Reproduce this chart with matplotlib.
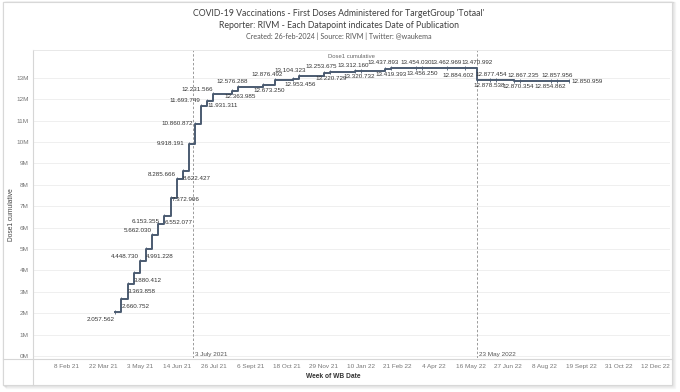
import matplotlib
matplotlib.use('Agg')
import matplotlib.pyplot as plt
import pandas as pd
from matplotlib.patches import Rectangle
from matplotlib.lines import Line2D

plt.rcParams['font.family'] = ['Lato', 'DejaVu Sans']

# data (publication week, cumulative first doses)
pub_dates = ['2021-04-05', '2021-04-12', '2021-04-19', '2021-04-26', '2021-05-03', '2021-05-10',
             '2021-05-17', '2021-05-24', '2021-05-31', '2021-06-07', '2021-06-14', '2021-06-21',
             '2021-06-28', '2021-07-05', '2021-07-12', '2021-07-19', '2021-07-26', '2021-08-16',
             '2021-08-23', '2021-09-20', '2021-10-04', '2021-10-25', '2021-11-01', '2021-11-29',
             '2021-12-06', '2022-01-03', '2022-01-10', '2022-02-07', '2022-02-14', '2022-03-14',
             '2022-03-21', '2022-04-18', '2022-05-09', '2022-05-23', '2022-06-06', '2022-06-13',
             '2022-07-04', '2022-07-11', '2022-08-15', '2022-08-22', '2022-09-05']
dose1 = [2057562, 2660752, 3363858, 3880412, 4448730, 4991228,
         5662030, 6153355, 6552077, 7372906, 8285666, 8622427,
         9918191, 10860872, 11693749, 11931311, 12231566, 12363985,
         12576288, 12673250, 12876492, 12953456, 13104323, 13220729,
         13253675, 13312160, 13320732, 13419393, 13437893, 13454030,
         13456250, 13462969, 13470992, 12884602, 12878538, 12877454,
         12870354, 12867235, 12857956, 12854862, 12850959]

tick_dates = ['2021-02-08', '2021-03-22', '2021-05-03', '2021-06-14', '2021-07-26', '2021-09-06',
              '2021-10-18', '2021-11-29', '2022-01-10', '2022-02-21', '2022-04-04', '2022-05-16',
              '2022-06-27', '2022-08-08', '2022-09-19', '2022-10-31', '2022-12-12']
tick_labels = ['8 Feb 21', '22 Mar 21', '3 May 21', '14 Jun 21', '26 Jul 21', '6 Sept 21',
               '18 Oct 21', '29 Nov 21', '10 Jan 22', '21 Feb 22', '4 Apr 22', '16 May 22',
               '27 Jun 22', '8 Aug 22', '19 Sept 22', '31 Oct 22', '12 Dec 22']
y_ticks = list(range(0, 14))

ref_dates = ['2021-07-03', '2022-05-23']
ref_labels = ['3 July 2021', '23 May 2022']

# label placement per point: (ha, dx px, dy px down)
label_pos = [('right', -1, 8), ('left', 0, 7.5), ('left', 0, 7.5), ('left', 0, 7.5),
             ('right', -1, -4), ('left', 0, 7.5), ('right', 0, -4), ('right', 1, -3),
             ('left', 0, 7), ('left', 1, 1), ('right', -1, -4), ('left', 0, 7),
             ('right', -5, 0), ('right', -2, 0), ('right', -1, -5), ('left', 0, 5),
             ('right', -1, -5),
             ('center', 8, 5.5), ('center', -6, -5.5), ('center', 7, 5.5), ('center', -8, -5.5),
             ('center', 7, 5.5), ('center', -9, -5.5), ('center', 7, 5.5), ('center', -9, -5.5),
             ('center', -1, -5.5), ('center', -1, 5.5), ('center', 6, 5.5), ('center', -8, -5.5),
             ('center', 0, -5.5), ('center', 0, 5.5), ('center', 0, -5.5), ('center', 12, -5.5),
             ('right', -3, -5), ('center', 0, 5.5), ('center', -4, -5.5), ('center', 4, 5.5),
             ('center', 3, -5.5), ('center', 6, -5.5), ('center', -7, 5.5), ('left', 2, 0)]

W, H = 680, 392
fig = plt.figure(figsize=(W / 100, H / 100), dpi=100)
fig.patch.set_facecolor('white')

def fx(px):
    return px / W

def fy(py):
    return 1 - py / H

# card shadow + border
for i, a in enumerate([0.10, 0.07, 0.05, 0.03]):
    fig.patches.append(Rectangle((fx(3 + i), fy(385 + i)), fx(669), fy(2) - fy(385 + i),
                                 transform=fig.transFigure, facecolor='none',
                                 edgecolor=(0, 0, 0, a), lw=1.0, zorder=-3))
fig.patches.append(Rectangle((fx(3), fy(385)), fx(669), fy(2) - fy(385),
                             transform=fig.transFigure, facecolor='white',
                             edgecolor='#d8d8d8', lw=0.8, zorder=-2))

ax = fig.add_axes([fx(33), fy(358), fx(670 - 33), fy(50) - fy(358)])
ax.set_facecolor('none')
ax.set_zorder(2)

x = pd.to_datetime(pub_dates)
y = [v / 1e6 for v in dose1]

ax.step(x, y, where='post', color='#4b5b71', lw=1.4, zorder=3)
ax.plot(x, y, ls='none', marker='|', ms=2.5, mew=0.6, color='#4b5b71', zorder=3)

lab_font = ['Liberation Sans', 'DejaVu Sans']
for xi, yi, v, (ha, dx, dy) in zip(x, y, dose1, label_pos):
    txt = f'{v:,}'.replace(',', '.')
    ax.annotate(txt, (xi, yi), xytext=(dx, -dy), textcoords='offset pixels',
                ha=ha, va='center', fontsize=4.5, color='#333333', family=lab_font, zorder=4)

# reference lines
for d, lab in zip(ref_dates, ref_labels):
    dd = pd.Timestamp(d)
    ax.axvline(dd, color='#9a9a9a', lw=0.7, ls=(0, (2.5, 2)), zorder=2)
    ax.annotate(lab, (dd, 0), xytext=(2, 2), textcoords='offset pixels',
                ha='left', va='center', fontsize=4.6, color='#555555', family=lab_font)

ax.set_xlim(pd.Timestamp('2021-01-01'), pd.Timestamp('2022-12-29'))
ax.set_ylim(-0.093, 14.3)
ax.set_xticks(pd.to_datetime(tick_dates))
ax.set_xticklabels(tick_labels)
ax.set_yticks(y_ticks)
ax.set_yticklabels([f'{t}M' for t in y_ticks])
ax.tick_params(length=0, labelsize=4.6, labelcolor='#777777', pad=3)
ax.tick_params(axis='x', pad=4)
for lab in ax.get_xticklabels() + ax.get_yticklabels():
    lab.set_family(lab_font)
ax.grid(axis='y', color='#ececec', lw=0.6, zorder=0)
for s in ax.spines.values():
    s.set_visible(False)

# pane borders
fig.lines.append(Line2D([fx(33), fx(33)], [fy(50), fy(385)], transform=fig.transFigure, color='#d6d6d6', lw=0.8))
fig.lines.append(Line2D([fx(3), fx(672)], [fy(359), fy(359)], transform=fig.transFigure, color='#d6d6d6', lw=0.8))
fig.lines.append(Line2D([fx(33), fx(672)], [fy(50), fy(50)], transform=fig.transFigure, color='#e4e4e4', lw=0.6))

# texts
fig.text(fx(339), fy(13), "COVID-19 Vaccinations - First Doses Administered for TargetGroup 'Totaal'",
         ha='center', va='center', fontsize=6.3, color='#3f3f3f')
fig.text(fx(339), fy(25), 'Reporter: RIVM - Each Datapoint indicates Date of Publication',
         ha='center', va='center', fontsize=6.3, color='#3f3f3f')
fig.text(fx(339), fy(36), 'Created: 26-feb-2024 | Source: RIVM | Twitter: @waukema',
         ha='center', va='center', fontsize=5.1, color='#555555')
fig.text(fx(351), fy(57), 'Dose1 cumulative', ha='center', va='center', fontsize=4.2,
         color='#666666', family=lab_font)
fig.text(fx(12), fy(215), 'Dose1 cumulative', ha='center', va='center', rotation=90,
         fontsize=4.8, color='#444444', family=lab_font)
fig.text(fx(333), fy(377), 'Week of WB Date', ha='center', va='center', fontsize=4.8,
         fontweight='bold', color='#333333', family=lab_font)

fig.savefig('out.png', dpi=100)
